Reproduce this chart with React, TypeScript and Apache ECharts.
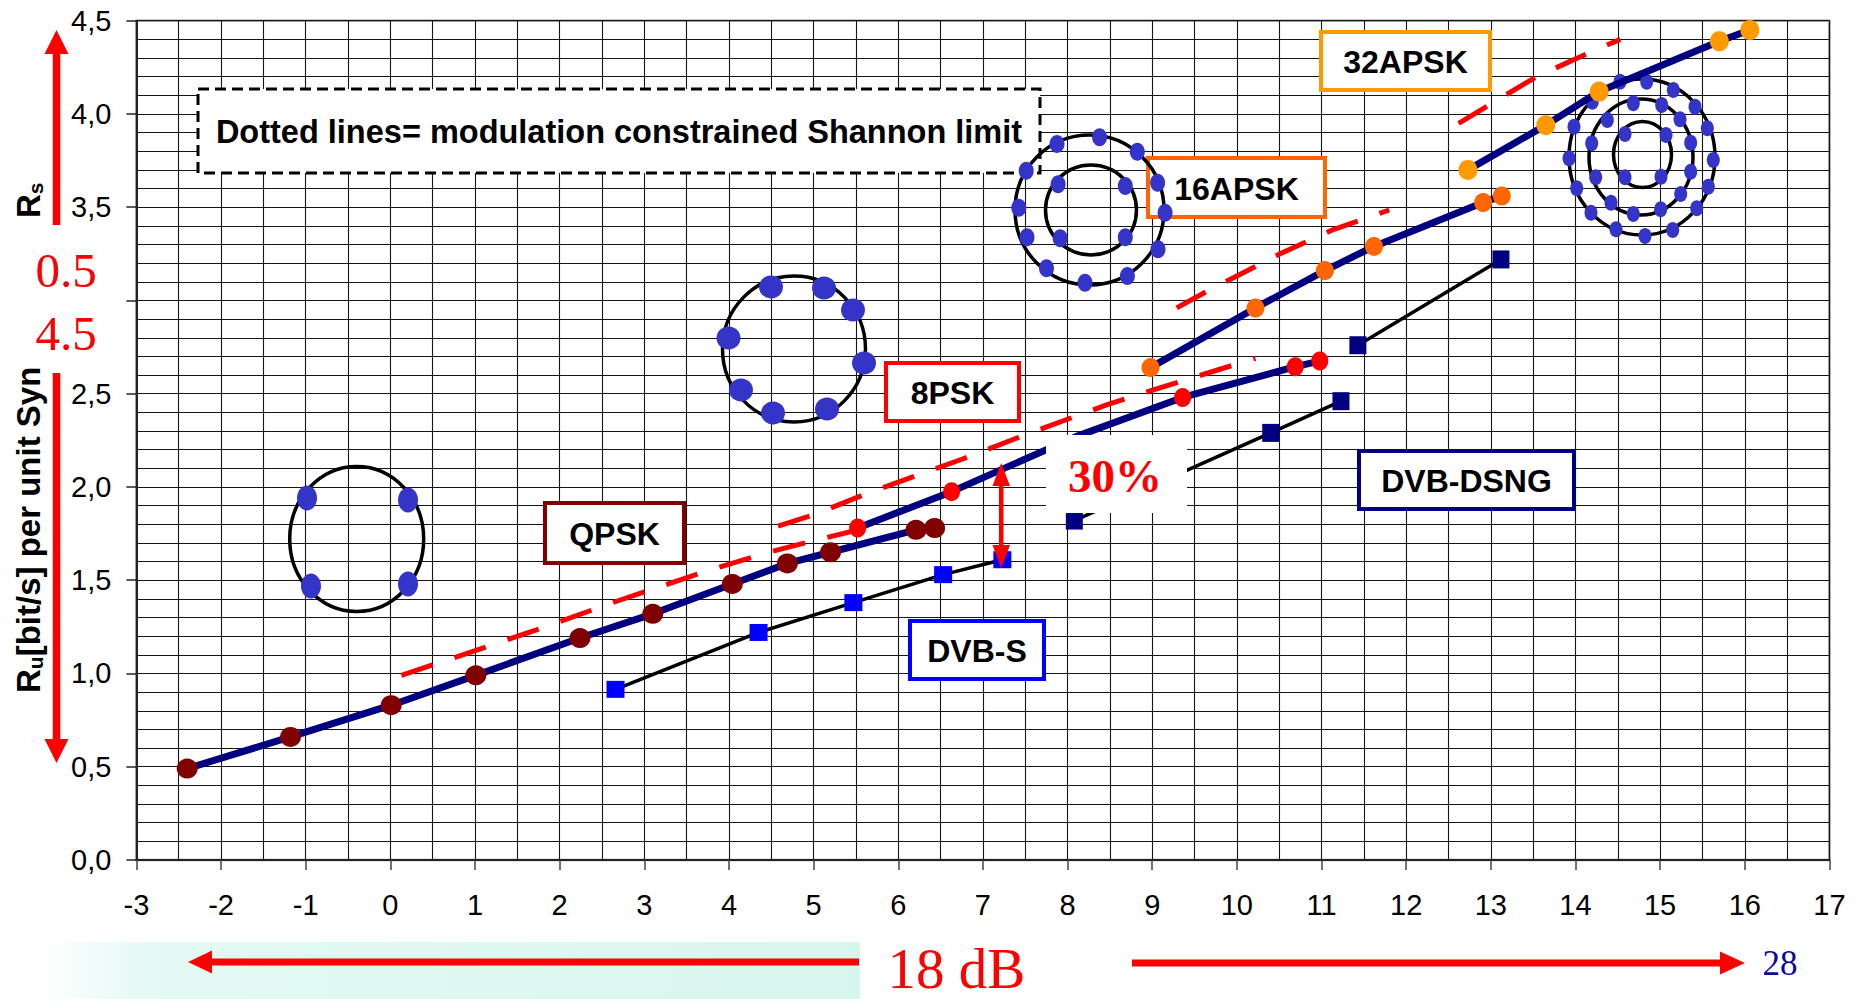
import React, { useEffect, useRef } from "react";
import * as echarts from "echarts";

// ---- axis ticks ----
const xTickLabels = ["-3","-2","-1","0","1","2","3","4","5","6","7","8","9","10","11","12","13","14","15","16","17"];
// the "3,0" label is hidden behind the red "0.5 / 4.5" note in the original
const yTickLabels = ["0,0","0,5","1,0","1,5","2,0","2,5","","3,5","4,0","4,5"];

// ---- measured curves (x = C/N [dB], y = bit/s per symbol) ----
const qpskX = [-2.4, -1.18, 0.01, 1.01, 2.24, 3.1, 4.04, 4.69, 5.2, 6.21, 6.43];
const qpskY = [0.49, 0.66, 0.83, 0.99, 1.19, 1.32, 1.48, 1.59, 1.65, 1.77, 1.78];
const psk8X = [5.52, 6.63, 8.1, 9.36, 10.69, 10.98];
const psk8Y = [1.78, 1.975, 2.27, 2.48, 2.645, 2.675];
const psk8Hidden = [false, false, true, false, false, false];
const apsk16X = [8.98, 10.22, 11.04, 11.62, 12.91, 13.13];
const apsk16Y = [2.64, 2.96, 3.16, 3.29, 3.525, 3.56];
const apsk32X = [12.73, 13.65, 14.28, 15.7, 16.06];
const apsk32Y = [3.7, 3.94, 4.12, 4.39, 4.45];
const dvbsX = [2.66, 4.35, 5.47, 6.53, 7.23];
const dvbsY = [0.915, 1.22, 1.38, 1.53, 1.61];
const dsngAX = [8.08, 10.4, 11.23];
const dsngAY = [1.82, 2.29, 2.46];
const dsngBX = [11.43, 13.12];
const dsngBY = [2.76, 3.22];

// ---- modulation constrained Shannon limits (dashed) ----
const qpskLimX = [0.13, 1.18, 1.83, 2.69, 3.74, 4.43, 4.94, 5.7];
const qpskLimY = [0.99, 1.15, 1.25, 1.39, 1.55, 1.645, 1.705, 1.79];
const psk8LimX = [4.58, 5.0, 5.6, 6.76, 7.56, 8.46, 9.08, 10.22];
const psk8LimY = [1.79, 1.85, 1.96, 2.15, 2.29, 2.44, 2.53, 2.69];
const apsk16LimX = [9.29, 9.65, 10.51, 11.14, 11.8];
const apsk16LimY = [2.96, 3.05, 3.25, 3.38, 3.485];
const apsk32LimX = [12.62, 13.54, 14.17, 14.53];
const apsk32LimY = [3.95, 4.2, 4.33, 4.4];

const zip = (xs: number[], ys: number[]) => xs.map((x, i) => [x, ys[i]]);

const SANS = "Liberation Sans, Arial, sans-serif";
const SERIF = "Liberation Serif, Times New Roman, serif";
const NAVY = "#000080";
const DOT = "#3434C8";

function dataLine(xs: number[], ys: number[], lineColor: string, lineWidth: number, symbol: string, symbolSize: any, markColor: string, hidden?: boolean[]) {
  return {
    type: "line",
    data: xs.map((x, i) => (hidden && hidden[i] ? { value: [x, ys[i]], symbol: "none" } : [x, ys[i]])),
    symbol,
    symbolSize,
    showSymbol: true,
    lineStyle: { color: lineColor, width: lineWidth },
    itemStyle: { color: markColor },
    z: 8,
    silent: true,
  };
}

function limitLine(xs: number[], ys: number[]) {
  return {
    type: "line",
    data: zip(xs, ys),
    symbol: "none",
    lineStyle: { color: "#FF0000", width: 5, type: [33, 23] },
    z: 7,
    silent: true,
  };
}

// decorations (pixel space)
function dot(cx: number, cy: number, rx: number, ry: number) {
  return { type: "ellipse", z: 6, shape: { cx, cy, rx, ry }, style: { fill: DOT } };
}
function ring(cx: number, cy: number, rx: number, ry: number) {
  return { type: "ellipse", z: 6, shape: { cx, cy, rx, ry }, style: { fill: "none", stroke: "#000", lineWidth: 3.5 } };
}
function labelBox(x: number, y: number, w: number, h: number, color: string, text: string) {
  return [
    { type: "rect", z: 5, shape: { x, y, width: w, height: h }, style: { fill: "#fff", stroke: color, lineWidth: 4 } },
    { type: "text", z: 5, x: x + w / 2, y: y + h / 2 + 1, style: { text, font: "bold 32px " + SANS, fill: "#000", align: "center", verticalAlign: "middle" } },
  ];
}
function redText(x: number, y: number, text: string, size: number, color = "#FF0000", weight = "normal", z = 12) {
  return { type: "text", z, x, y, style: { text, font: `${weight} ${size}px ${SERIF}`, fill: color, align: "center", verticalAlign: "middle" } };
}

const qpskDots = [[307, 498], [408, 500], [311, 586], [408, 584]];
const psk8Dots = [[771, 287], [824, 288], [853, 310], [864, 363], [827, 409], [773, 413], [741, 390], [728.5, 338]];
const a16Outer = [[1057, 144], [1099.6, 137.3], [1137.3, 151.7], [1157.6, 182.7], [1165.1, 212.7], [1158, 249.3], [1127.4, 276], [1085, 282.7], [1046.5, 268.3], [1027, 237.3], [1018.8, 207.7], [1026.2, 170.7]];
const a16Inner = [[1058.1, 184.3], [1125.3, 186], [1060.2, 238.3], [1125.3, 237.3]];
const a32Outer = [[1620, 81.7], [1646.7, 81.7], [1673.3, 90], [1695, 106.7], [1707.3, 128.3], [1713.3, 160], [1708.3, 186.7], [1696.7, 208.3], [1672.7, 230], [1645, 236], [1616, 229.3], [1591, 212.7], [1576.7, 188.3], [1569, 158.3], [1574, 126.7], [1592.3, 101.7]];
const a32Mid = [[1633.3, 103.3], [1661.7, 105], [1680, 119.3], [1690.7, 142.7], [1690.7, 171.7], [1680.7, 194], [1660.7, 209.3], [1633.3, 214], [1611, 202.7], [1595.7, 177.3], [1591.7, 143.3], [1607.3, 120]];
const a32Inner = [[1625, 134], [1666, 135], [1625, 177.3], [1661, 176.7]];

function buildGraphics() {
  const g: any[] = [];
  // bottom pale band
  g.push({
    type: "rect", z: 1, shape: { x: 40, y: 942, width: 820, height: 57 },
    style: { fill: new echarts.graphic.LinearGradient(0, 0, 1, 0, [
      { offset: 0, color: "rgba(222,248,242,0)" },
      { offset: 0.15, color: "#e3f9f4" },
      { offset: 1, color: "#d8f6ee" },
    ]) },
  });
  // dashed note box
  g.push({ type: "rect", z: 5, shape: { x: 198, y: 89, width: 842, height: 84 }, style: { fill: "#fff", stroke: "#000", lineWidth: 3, lineDash: [11, 6] } });
  g.push({ type: "text", z: 5, x: 619, y: 132, style: { text: "Dotted lines= modulation constrained Shannon limit", font: "bold 32.5px " + SANS, fill: "#000", align: "center", verticalAlign: "middle" } });
  // label boxes
  g.push(...labelBox(1321, 32, 169, 58, "#FF9900", "32APSK"));
  g.push(...labelBox(1148, 158, 177, 59, "#FF6600", "16APSK"));
  g.push(...labelBox(886, 363, 133, 58, "#FF0000", "8PSK"));
  g.push(...labelBox(545, 503, 139, 60, "#800000", "QPSK"));
  g.push(...labelBox(910, 621, 134, 58, "#0000FF", "DVB-S"));
  g.push(...labelBox(1359, 451, 215, 58, "#000080", "DVB-DSNG"));
  // constellations
  g.push(ring(356.7, 539, 67, 72.5));
  qpskDots.forEach(([x, y]) => g.push(dot(x, y, 10, 12.5)));
  g.push(ring(794, 349, 71.5, 73));
  psk8Dots.forEach(([x, y]) => g.push(dot(x, y, 12, 11.5)));
  g.push(ring(1089.5, 210, 74.5, 75));
  g.push(ring(1091, 210, 45.5, 45));
  a16Outer.forEach(([x, y]) => g.push(dot(x, y, 7.5, 9)));
  a16Inner.forEach(([x, y]) => g.push(dot(x, y, 7.5, 9)));
  g.push(ring(1642, 157, 73, 78));
  g.push(ring(1641, 157, 52, 58));
  g.push(ring(1642.5, 154.5, 29, 33));
  [...a32Outer, ...a32Mid, ...a32Inner].forEach(([x, y]) => g.push(dot(x, y, 6.5, 8)));
  // 30% box
  g.push({ type: "rect", z: 20, shape: { x: 1046, y: 435, width: 141, height: 78 }, style: { fill: "#fff" } });
  g.push(redText(1115, 476, "30%", 47, "#FF0000", "bold", 21));
  // double arrow
  g.push({ type: "rect", z: 12, shape: { x: 999, y: 483, width: 4.5, height: 65 }, style: { fill: "#FF0000" } });
  g.push({ type: "polygon", z: 12, shape: { points: [[1001.2, 463], [992.5, 486], [1010, 486]] }, style: { fill: "#FF0000" } });
  g.push({ type: "polygon", z: 12, shape: { points: [[1001.2, 568], [992.5, 545], [1010, 545]] }, style: { fill: "#FF0000" } });
  // white patch behind the red 0.5 / 4.5 note
  g.push({ type: "rect", z: 11, shape: { x: 0, y: 228, width: 114, height: 143 }, style: { fill: "#fff" } });
  // left vertical arrows
  g.push({ type: "rect", z: 12, shape: { x: 52.8, y: 52, width: 7.5, height: 173 }, style: { fill: "#FF0000" } });
  g.push({ type: "polygon", z: 12, shape: { points: [[56.5, 30], [44.5, 54], [68.5, 54]] }, style: { fill: "#FF0000" } });
  g.push({ type: "rect", z: 12, shape: { x: 52.8, y: 373, width: 7.5, height: 368 }, style: { fill: "#FF0000" } });
  g.push({ type: "polygon", z: 12, shape: { points: [[56.5, 763], [44.5, 739], [68.5, 739]] }, style: { fill: "#FF0000" } });
  // axis title (rotated)
  g.push({
    type: "text", z: 12, x: 28, y: 693, rotation: Math.PI / 2,
    style: {
      text: "{r|R}{s|u}{r|[bit/s] per unit Syn}",
      align: "left", verticalAlign: "middle",
      rich: {
        r: { font: "bold 33px " + SANS, fill: "#000", verticalAlign: "middle", lineHeight: 36 },
        s: { font: "bold 21px " + SANS, fill: "#000", verticalAlign: "bottom", lineHeight: 36 },
      },
    },
  });
  g.push({
    type: "text", z: 12, x: 28, y: 218, rotation: Math.PI / 2,
    style: {
      text: "{r|R}{s|s}",
      align: "left", verticalAlign: "middle",
      rich: {
        r: { font: "bold 33px " + SANS, fill: "#000", verticalAlign: "middle", lineHeight: 36 },
        s: { font: "bold 21px " + SANS, fill: "#000", verticalAlign: "bottom", lineHeight: 36 },
      },
    },
  });
  g.push(redText(66, 270, "0.5", 49));
  g.push(redText(66, 333, "4.5", 49));
  // bottom arrows and texts
  g.push({ type: "rect", z: 12, shape: { x: 210, y: 958.5, width: 649, height: 7 }, style: { fill: "#FF0000" } });
  g.push({ type: "polygon", z: 12, shape: { points: [[188, 962], [212, 950.5], [212, 973.5]] }, style: { fill: "#FF0000" } });
  g.push(redText(956.5, 968, "18 dB", 57));
  g.push({ type: "rect", z: 12, shape: { x: 1132, y: 959.5, width: 590, height: 7 }, style: { fill: "#FF0000" } });
  g.push({ type: "polygon", z: 12, shape: { points: [[1745, 963], [1720, 951.5], [1720, 974.5]] }, style: { fill: "#FF0000" } });
  g.push(redText(1780, 963.5, "28", 35, "#0A0A96"));
  return g;
}

const GRIDLINE = { color: "#151515", width: 1.1 };

export default function App() {
  const ref = useRef<HTMLDivElement>(null);
  useEffect(() => {
    const chart = echarts.init(ref.current!, undefined, { renderer: "svg" });
    chart.setOption({
      animation: false,
      backgroundColor: "#fff",
      grid: { left: 136.4, right: 27.6, top: 20.7, bottom: 139, show: true, borderColor: "#9a9a9a", borderWidth: 2.5, backgroundColor: "transparent" },
      xAxis: {
        type: "value", min: -3, max: 17, interval: 1,
        axisLine: { show: true, onZero: false, lineStyle: { color: "#222", width: 2 } },
        axisTick: { show: true, length: 10, lineStyle: { color: "#444", width: 1.5 } },
        axisLabel: { fontSize: 29, fontFamily: SANS, color: "#000", margin: 30, formatter: (v: number) => xTickLabels[Math.round(v + 3)] },
        splitLine: { show: true, lineStyle: GRIDLINE },
        minorTick: { show: false, splitNumber: 2 },
        minorSplitLine: { show: true, lineStyle: GRIDLINE },
      },
      yAxis: {
        type: "value", min: 0, max: 4.5, interval: 0.5,
        axisLine: { show: true, onZero: false, lineStyle: { color: "#222", width: 2 } },
        axisTick: { show: true, length: 10, lineStyle: { color: "#222", width: 1.5 } },
        axisLabel: { fontSize: 29, fontFamily: SANS, color: "#000", margin: 25, formatter: (v: number) => yTickLabels[Math.round(v / 0.5)] },
        splitLine: { show: true, lineStyle: GRIDLINE },
        minorTick: { show: false, splitNumber: 5 },
        minorSplitLine: { show: true, lineStyle: GRIDLINE },
      },
      series: [
        limitLine(qpskLimX, qpskLimY),
        limitLine(psk8LimX, psk8LimY),
        limitLine(apsk16LimX, apsk16LimY),
        limitLine(apsk32LimX, apsk32LimY),
        dataLine(dvbsX, dvbsY, "#000", 3.5, "rect", [18, 17], "#0000FF"),
        dataLine(dsngAX, dsngAY, "#000", 3.5, "rect", [17, 18], "#000080"),
        dataLine(dsngBX, dsngBY, "#000", 3.5, "rect", [17, 18], "#000080"),
        dataLine(qpskX, qpskY, NAVY, 7, "circle", [21, 20], "#800000"),
        dataLine(psk8X, psk8Y, NAVY, 7, "circle", [17, 19], "#FF0000", psk8Hidden),
        dataLine(apsk16X, apsk16Y, NAVY, 7, "circle", [18, 19], "#FF6600"),
        dataLine(apsk32X, apsk32Y, NAVY, 7, "circle", [19, 20], "#FF9900"),
      ],
      graphic: { elements: buildGraphics() },
    });
    return () => chart.dispose();
  }, []);
  return <div ref={ref} style={{ position: "absolute", left: 0, top: 0, width: 1857, height: 999, background: "#fff" }} />;
}
